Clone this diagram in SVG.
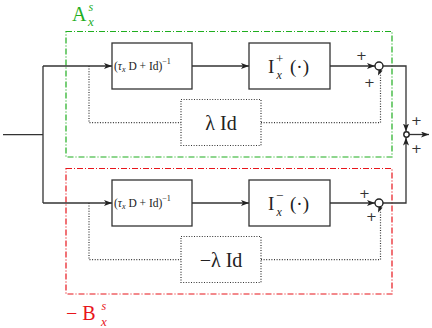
<svg xmlns="http://www.w3.org/2000/svg" width="432" height="328" viewBox="0 0 432 328">
<defs>
<marker id="ah" viewBox="0 0 8 6" refX="8" refY="3" markerWidth="8" markerHeight="6" markerUnits="userSpaceOnUse" orient="auto">
<path d="M0,0 L8,3 L0,6 L2,3 Z" fill="#222"/>
</marker>
</defs>
<style>
.ln{fill:none;stroke:#333;stroke-width:1.3}
.dt{fill:none;stroke:#333;stroke-width:1.2;stroke-dasharray:1 1.6}
.blk{fill:#fff;stroke:#333;stroke-width:1.3}
.dbx{fill:#fff;stroke:#333;stroke-width:1.2;stroke-dasharray:1 1.6}
.sum{fill:#fff;stroke:#222;stroke-width:1.4}
text{font-family:'Liberation Serif','DejaVu Serif',serif;fill:#222}
.i{font-style:italic}
.pl{font-family:'DejaVu Sans',sans-serif;font-size:13px;fill:#333}
.gb{fill:none;stroke:#1fae1f;stroke-width:1.2;stroke-dasharray:6 2 1 2}
.rb{fill:none;stroke:#e8151b;stroke-width:1.2;stroke-dasharray:6 2 1 2}
.g{fill:#1fae1f}
.r{fill:#e8151b}
</style>
<g id="group-A">
<rect class="gb" x="66" y="31.5" width="326" height="125.5"/>
<text class="g" x="72" y="20.5" font-size="20">A</text>
<text class="g i" x="88.5" y="10.5" font-size="12">s</text>
<text class="g i" x="88" y="26" font-size="13">x</text>
</g>
<g id="group-B">
<rect class="rb" x="66" y="168.5" width="326" height="125.5"/>
<text class="r" x="66" y="320" font-size="20">− B</text>
<text class="r i" x="101.5" y="310" font-size="12">s</text>
<text class="r i" x="101" y="326" font-size="13">x</text>
</g>
<g id="connectors">
<path class="ln" d="M3,134.7 H43 M43,66 V203"/>
<path class="ln" d="M43,66 H112" marker-end="url(#ah)"/>
<path class="ln" d="M192,66 H249" marker-end="url(#ah)"/>
<path class="ln" d="M330,66 H375" marker-end="url(#ah)"/>
<path class="dt" d="M89,66 V122.7 H181"/>
<path class="dt" d="M261,122.7 H380.5 V70.5"/>
<path d="M380.5,76 L378.3,69.8 L382.7,69.8 Z" fill="#222" transform="rotate(25 380.5 70)"/>
<path class="ln" d="M43,203 H112" marker-end="url(#ah)"/>
<path class="ln" d="M192,203 H249" marker-end="url(#ah)"/>
<path class="ln" d="M330,203 H375" marker-end="url(#ah)"/>
<path class="dt" d="M89,203 V259.7 H181"/>
<path class="dt" d="M261,259.7 H380.5 V207.5"/>
<path d="M380.5,213 L378.3,206.8 L382.7,206.8 Z" fill="#222" transform="rotate(25 380.5 207)"/>
<path class="ln" d="M383,66 H406 V131.5" marker-end="url(#ah)"/>
<path class="ln" d="M383,203 H406 V137.5" marker-end="url(#ah)"/>
<path class="ln" d="M409,134.5 H429" marker-end="url(#ah)"/>
</g>
<g id="inv-A">
<rect class="blk" x="112" y="43" width="80" height="46"/>
<text x="114" y="70" font-size="11.5">(<tspan class="i">τ</tspan><tspan class="i" font-size="8" dy="2">x</tspan><tspan dy="-2"> D + Id)</tspan><tspan font-size="8" dy="-6">−1</tspan></text>
</g>
<g id="Iplus">
<rect class="blk" x="249" y="43" width="81" height="46"/>
<text x="268" y="73" font-size="19">I</text>
<text x="276" y="63" font-size="13">+</text>
<text class="i" x="276.5" y="79" font-size="12">x</text>
<text x="290" y="73" font-size="19">(·)</text>
</g>
<g id="lam-A">
<rect class="dbx" x="181" y="99.5" width="80" height="46"/>
<text x="221" y="130" font-size="20" text-anchor="middle">λ Id</text>
</g>
<g id="sum-A">
<circle class="sum" cx="379" cy="66" r="4"/>
<text class="pl" x="356" y="60">+</text>
<text class="pl" x="364" y="87">+</text>
</g>
<g id="inv-B">
<rect class="blk" x="112" y="180" width="80" height="46"/>
<text x="114" y="207" font-size="11.5">(<tspan class="i">τ</tspan><tspan class="i" font-size="8" dy="2">x</tspan><tspan dy="-2"> D + Id)</tspan><tspan font-size="8" dy="-6">−1</tspan></text>
</g>
<g id="Iminus">
<rect class="blk" x="249" y="180" width="81" height="46"/>
<text x="268" y="210" font-size="19">I</text>
<text x="276" y="200" font-size="13">−</text>
<text class="i" x="276.5" y="216" font-size="12">x</text>
<text x="290" y="210" font-size="19">(·)</text>
</g>
<g id="lam-B">
<rect class="dbx" x="181" y="236.5" width="80" height="46"/>
<text x="221" y="267" font-size="20" text-anchor="middle">−λ Id</text>
</g>
<g id="sum-B">
<circle class="sum" cx="379" cy="203" r="4"/>
<text class="pl" x="359" y="198">+</text>
<text class="pl" x="366" y="221">+</text>
</g>
<g id="sum-out">
<circle class="sum" cx="406.5" cy="134.5" r="2.7"/>
<text class="pl" x="411" y="125">+</text>
<text class="pl" x="411" y="153">+</text>
</g>
</svg>
